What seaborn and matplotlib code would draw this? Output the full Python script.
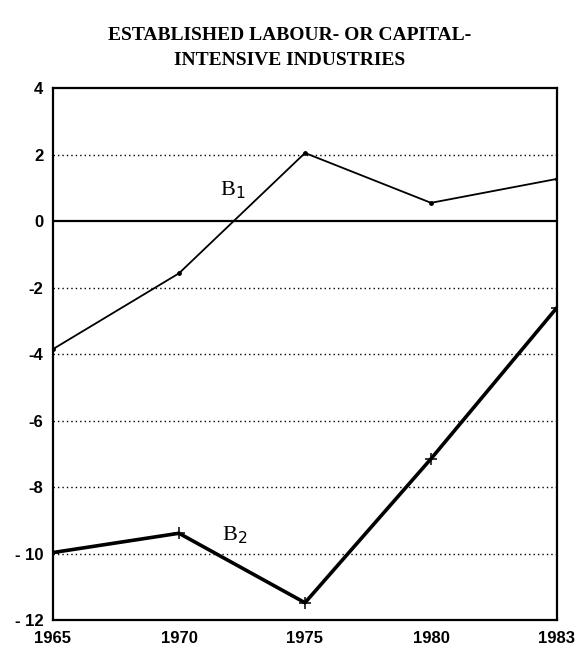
import matplotlib
matplotlib.use("Agg")
import matplotlib.pyplot as plt
import seaborn as sns
import pandas as pd

# data
years = ["1965", "1970", "1975", "1980", "1983"]
b1 = [-3.85, -1.57, 2.05, 0.55, 1.27]
b2 = [-9.97, -9.39, -11.48, -7.15, -2.6]
y_ticks = [4, 2, 0, -2, -4, -6, -8, -10, -12]
grid_levels = [2, -2, -4, -6, -8, -10]

df = pd.DataFrame({"year": years * 2,
                   "value": b1 + b2,
                   "series": ["B1"] * len(years) + ["B2"] * len(years)})

sns.set_style("white")
plt.rcParams["text.color"] = "black"
fig = plt.figure(figsize=(5.79, 6.53), dpi=100)
ax = fig.add_axes([0.0915, 0.0505, 0.8705, 0.8145])

for g in grid_levels:
    ax.axhline(g, color="black", linestyle=(0, (1, 2.2)), linewidth=1.0, zorder=1)
ax.axhline(0, color="black", linewidth=1.6, zorder=1)

sns.lineplot(data=df[df.series == "B1"], x="year", y="value", ax=ax,
             color="black", linewidth=1.3, marker="o", markersize=3.5,
             markeredgewidth=0, sort=False, zorder=3)
sns.lineplot(data=df[df.series == "B2"], x="year", y="value", ax=ax,
             color="black", linewidth=2.6, marker="+", markersize=8,
             markeredgewidth=1.1, markeredgecolor="black", sort=False, zorder=3)

ax.text(1.43, 0.93, "B$_1$", fontsize=16, family="Liberation Serif",
        ha="center", va="center", color="black")
ax.text(1.44, -9.44, "B$_2$", fontsize=16, family="Liberation Serif",
        ha="center", va="center", color="black")

ax.set_xlim(0, len(years) - 1)
ax.set_ylim(-12, 4)
ax.set_yticks(y_ticks)
ax.set_yticklabels([str(t).replace("-", "- ") if t <= -10 else str(t)
                    for t in y_ticks])
ax.set_xlabel("")
ax.set_ylabel("")
ax.tick_params(axis="both", direction="in", length=5, width=1.2,
               labelsize=12, colors="black")
ax.tick_params(axis="x", pad=8)
ax.tick_params(axis="y", pad=7)
for lab in ax.get_xticklabels() + ax.get_yticklabels():
    lab.set_fontweight("bold")
    lab.set_family("Liberation Sans")
for s in ax.spines.values():
    s.set_linewidth(1.6)
    s.set_color("black")

fig.suptitle("ESTABLISHED LABOUR- OR CAPITAL-\nINTENSIVE INDUSTRIES",
             x=0.5, y=0.958, fontsize=14, fontweight="bold",
             family="Liberation Serif", linespacing=1.6, color="black")

fig.savefig("out.png", dpi=100)
